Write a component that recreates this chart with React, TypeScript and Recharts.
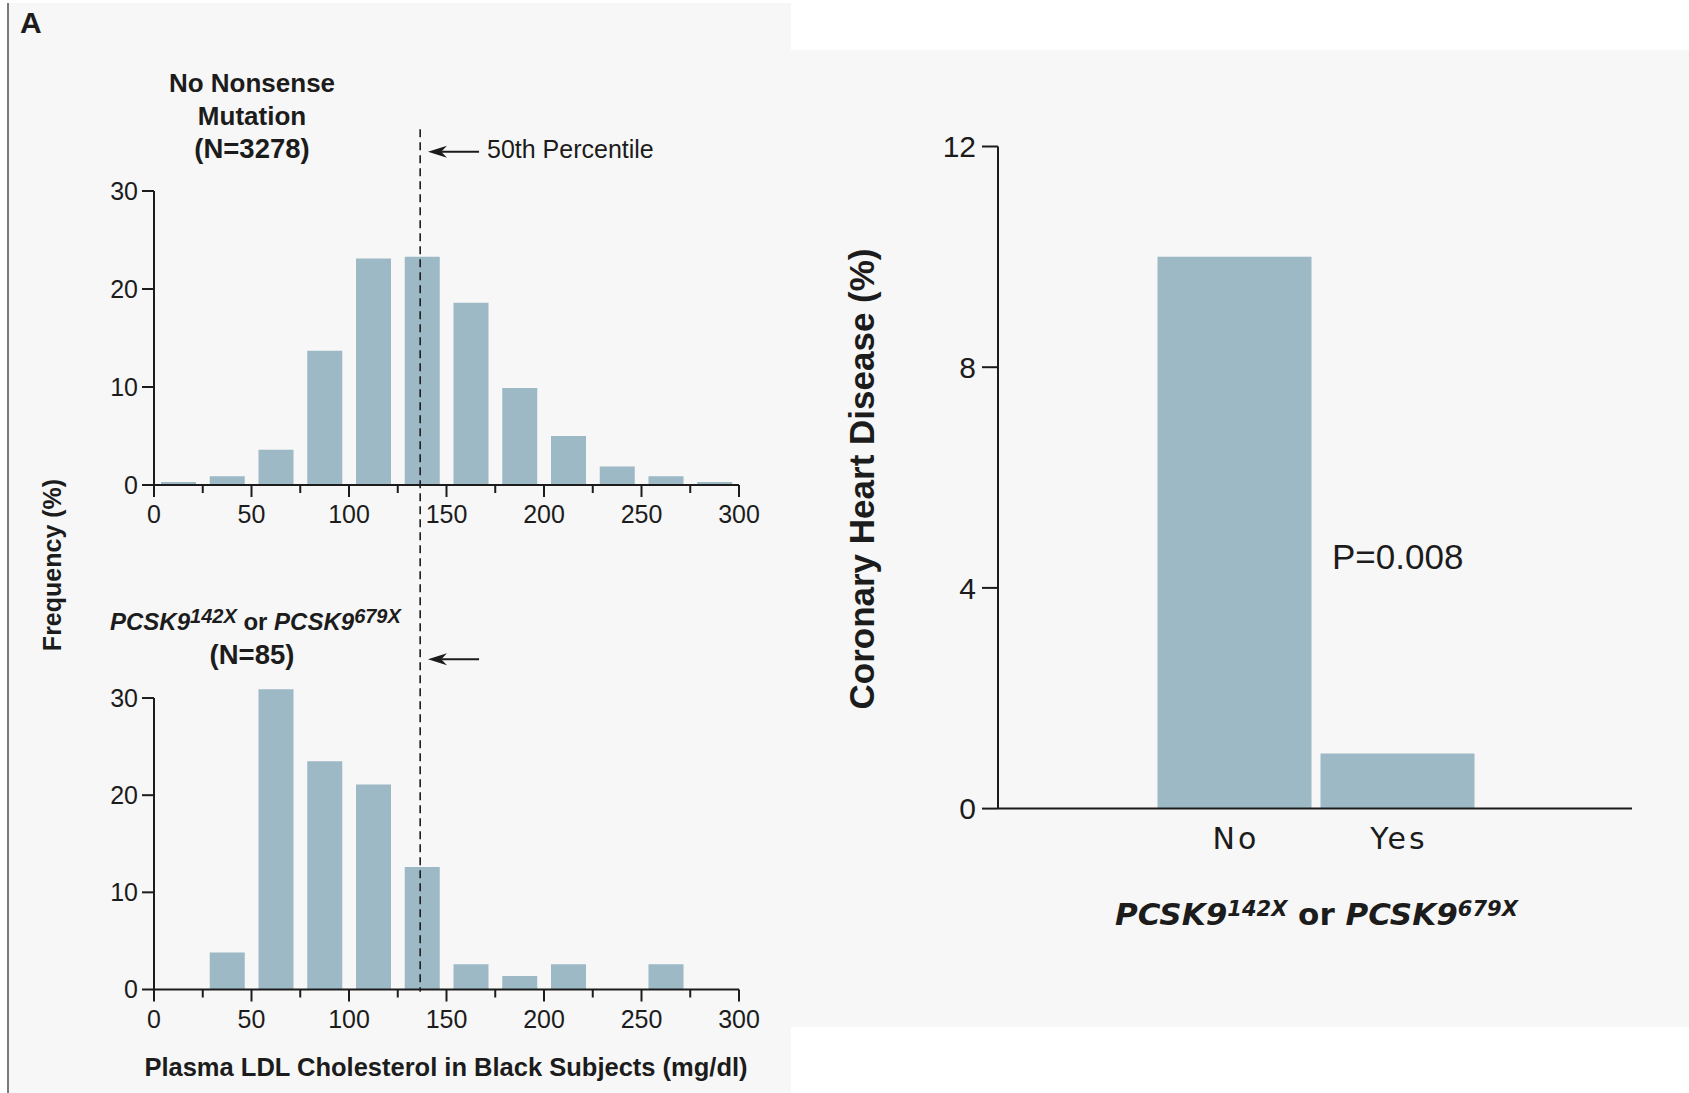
import React from 'react';
import { ComposedChart, BarChart, Bar, XAxis, YAxis, ReferenceLine } from 'recharts';

// ---------- data ----------
const binMids = [12.5, 37.5, 62.5, 87.5, 112.5, 137.5, 162.5, 187.5, 212.5, 237.5, 262.5, 287.5];
const noMutationFreq = [0.3, 0.9, 3.6, 13.7, 23.1, 23.3, 18.6, 9.9, 5.0, 1.9, 0.9, 0.3];
const mutationFreq = [0, 3.8, 30.9, 23.5, 21.1, 12.6, 2.6, 1.4, 2.6, 0, 2.6, 0];
const ldlTicks = [0, 25, 50, 75, 100, 125, 150, 175, 200, 225, 250, 275, 300];
const freqTicks = [0, 10, 20, 30];
const medianLDL = 136.5;

const chdGroups = ['No', 'Yes'];
const chdPercent = [10.0, 1.0];
const chdTicks = [0, 4, 8, 12];

// ---------- style ----------
const INK = '#1c1c1c';
const BAR = '#9db9c6';
const PANEL = '#f7f7f7';
const SANS = "'Liberation Sans', Arial, sans-serif";
const WIDE = "'DejaVu Sans', Verdana, sans-serif";

const HistTick = (props: any) => {
  const { x, y, payload } = props;
  const v = payload.value;
  const major = v % 50 === 0;
  return (
    <g>
      <line x1={x} x2={x} y1={y} y2={y + (major ? 12 : 8)} stroke={INK} strokeWidth={2} />
      {major && (
        <text x={x} y={y + 38} textAnchor="middle" fontSize={25} fontFamily={SANS} fill={INK}>
          {v}
        </text>
      )}
    </g>
  );
};

const GroupTick = (props: any) => {
  const { x, y, payload } = props;
  return (
    <text x={x + 2} y={y + 40} textAnchor="middle" fontSize={30} fontFamily={WIDE} fill={INK} letterSpacing={3}>
      {payload.value}
    </text>
  );
};

const ArrowShape = (p: any) => {
  const { x1, y1, x2, y2 } = p;
  const dir = Math.sign(x2 - x1) || 1;
  const head = 19;
  return (
    <g>
      <line x1={x1 + dir * head * 0.7} y1={y1} x2={x2} y2={y2} stroke={INK} strokeWidth={2} />
      <polygon
        points={`${x1},${y1} ${x1 + dir * head},${y1 - 6} ${x1 + dir * head * 0.7},${y1} ${x1 + dir * head},${y1 + 6}`}
        fill={INK}
      />
    </g>
  );
};

type HistProps = {
  values: number[];
  marginTop: number;
  marginBottom: number;
  dashTop: number;
  dashBottom: number;
};

function Histogram({ values, marginTop, marginBottom, dashTop, dashBottom }: HistProps) {
  const data = binMids.map((m, i) => ({ mid: m, freq: values[i] }));
  return (
    <div style={{ position: 'absolute', left: 0, top: 0 }}>
      <ComposedChart
        width={790}
        height={1093}
        data={data}
        margin={{ top: marginTop, right: 51, bottom: marginBottom, left: 94 }}
      >
        <XAxis
          dataKey="mid"
          type="number"
          domain={[0, 300]}
          ticks={ldlTicks}
          interval={0}
          tick={<HistTick />}
          tickLine={false}
          tickSize={0}
          tickMargin={0}
          height={50}
          axisLine={{ stroke: INK, strokeWidth: 2 }}
        />
        <YAxis
          type="number"
          domain={[0, 32]}
          ticks={freqTicks}
          interval={0}
          width={60}
          axisLine={false}
          tickLine={{ stroke: INK, strokeWidth: 2 }}
          tickSize={12}
          tickMargin={4}
          tick={{ fontSize: 25, fill: INK, fontFamily: SANS }}
        />
        <Bar dataKey="freq" fill={BAR} barSize={35} isAnimationActive={false} />
        <ReferenceLine
          segment={[{ x: 0, y: 0 }, { x: 0, y: 30 }]}
          stroke={INK}
          strokeWidth={2}
          ifOverflow="visible"
        />
        {dashTop !== dashBottom && (
          <ReferenceLine
            segment={[{ x: medianLDL, y: dashTop }, { x: medianLDL, y: dashBottom }]}
            stroke={INK}
            strokeWidth={1.6}
            strokeDasharray="8 5"
            ifOverflow="visible"
          />
        )}
        <ReferenceLine
          segment={[{ x: 140.5, y: 34 }, { x: 166.7, y: 34 }]}
          shape={ArrowShape}
          ifOverflow="visible"
        />
      </ComposedChart>
    </div>
  );
}

function ChdChart() {
  const data = chdGroups.map((g, i) => ({ group: g, pct: chdPercent[i] }));
  return (
    <div style={{ position: 'absolute', left: 0, top: 0 }}>
      <BarChart
        width={1689}
        height={1093}
        data={data}
        margin={{ top: 146.5, right: 57, bottom: 234.4, left: 938 }}
      >
        <XAxis
          dataKey="group"
          type="category"
          padding={{ left: 154.5, right: 153.5 }}
          axisLine={{ stroke: INK, strokeWidth: 2 }}
          tickLine={false}
          tickSize={0}
          tickMargin={0}
          height={50}
          interval={0}
          tick={<GroupTick />}
        />
        <YAxis
          type="number"
          domain={[0, 12]}
          ticks={chdTicks}
          interval={0}
          width={60}
          axisLine={{ stroke: INK, strokeWidth: 2 }}
          tickLine={{ stroke: INK, strokeWidth: 2 }}
          tickSize={16}
          tickMargin={6}
          tick={{ fontSize: 30, fill: INK, fontFamily: SANS }}
        />
        <Bar dataKey="pct" fill={BAR} barSize={154} isAnimationActive={false} />
      </BarChart>
    </div>
  );
}

function Overlay() {
  return (
    <svg
      width={1689}
      height={1093}
      style={{ position: 'absolute', left: 0, top: 0, pointerEvents: 'none' }}
    >
      <g fill={INK} fontFamily={SANS}>
        <text x={20} y={33} fontSize={30} fontWeight="bold">A</text>

        <text x={252} y={92} fontSize={26} fontWeight="bold" textAnchor="middle">No Nonsense</text>
        <text x={252} y={125} fontSize={26} fontWeight="bold" textAnchor="middle">Mutation</text>
        <text x={252} y={158} fontSize={27.5} fontWeight="bold" textAnchor="middle">(N=3278)</text>

        <text x={487} y={158} fontSize={25}>50th Percentile</text>

        <text x={110} y={630} fontSize={24} fontWeight="bold">
          <tspan fontStyle="italic">PCSK9</tspan>
          <tspan fontStyle="italic" fontSize={20} dy={-7}>142X</tspan>
          <tspan dy={7}> or </tspan>
          <tspan fontStyle="italic">PCSK9</tspan>
          <tspan fontStyle="italic" fontSize={20} dy={-7}>679X</tspan>
        </text>
        <text x={252} y={664} fontSize={27.5} fontWeight="bold" textAnchor="middle">(N=85)</text>

        <text
          transform="translate(61,565) rotate(-90)"
          fontSize={25}
          fontWeight="bold"
          textAnchor="middle"
        >
          Frequency (%)
        </text>

        <text x={446} y={1076} fontSize={25.5} fontWeight="bold" textAnchor="middle">
          Plasma LDL Cholesterol in Black Subjects (mg/dl)
        </text>

        <text
          transform="translate(874,479) rotate(-90)"
          fontSize={35}
          fontWeight="bold"
          textAnchor="middle"
        >
          Coronary Heart Disease (%)
        </text>

        <text x={1332} y={569} fontSize={35}>P=0.008</text>

        <text x={1115} y={925} fontSize={31} fontWeight="bold" fontFamily={WIDE}>
          <tspan fontStyle="italic">PCSK9</tspan>
          <tspan fontStyle="italic" fontSize={21} dy={-9}>142X</tspan>
          <tspan dy={9}> or </tspan>
          <tspan fontStyle="italic">PCSK9</tspan>
          <tspan fontStyle="italic" fontSize={21} dy={-9}>679X</tspan>
        </text>
      </g>
    </svg>
  );
}

export default function App() {
  return (
    <div
      style={{
        position: 'absolute',
        left: 0,
        top: 0,
        width: 1689,
        height: 1093,
        background: '#ffffff',
        overflow: 'hidden',
      }}
    >
      <div style={{ position: 'absolute', left: 9, top: 3, width: 782, height: 1090, background: PANEL }} />
      <div style={{ position: 'absolute', left: 7, top: 3, width: 2, height: 1090, background: '#7a7a7a' }} />
      <div style={{ position: 'absolute', left: 791, top: 50, width: 898, height: 977, background: PANEL }} />

      <Histogram values={mutationFreq} marginTop={678.6} marginBottom={53.5} dashTop={0} dashBottom={0} />
      <Histogram values={noMutationFreq} marginTop={171.4} marginBottom={558} dashTop={36.3} dashBottom={-51.7} />
      <ChdChart />
      <Overlay />
    </div>
  );
}
